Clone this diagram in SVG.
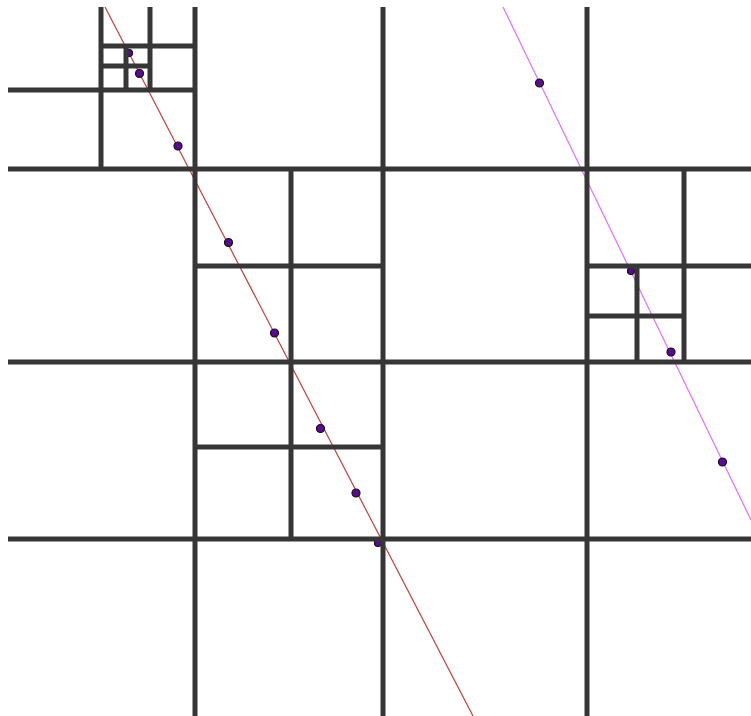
<svg xmlns="http://www.w3.org/2000/svg" width="751" height="716" viewBox="0 0 751 716">
  <style>
    .g { stroke: #363636; stroke-width: 5; fill: none; stroke-linecap: butt; }
    .red { stroke: #c2403a; stroke-width: 1.2; fill: none; }
    .mag { stroke: #e070ff; stroke-width: 1.2; fill: none; }
    .dot { fill: #5a0a90; stroke: #111; stroke-width: 1.2; }
  </style>
  <rect x="0" y="0" width="751" height="716" fill="#ffffff"/>
  <g id="curves">
    <line class="red" x1="105" y1="7" x2="473" y2="716"/>
    <line class="mag" x1="503" y1="7" x2="751" y2="520"/>
  </g>
  <g id="points">
    <circle class="dot" cx="129" cy="53" r="3.5"/>
    <circle class="dot" cx="139.5" cy="73.5" r="4"/>
    <circle class="dot" cx="178" cy="146" r="4"/>
    <circle class="dot" cx="228.5" cy="242.5" r="4"/>
    <circle class="dot" cx="274.5" cy="333" r="4"/>
    <circle class="dot" cx="320.5" cy="428.5" r="4"/>
    <circle class="dot" cx="356" cy="493" r="4"/>
    <circle class="dot" cx="378" cy="543" r="3.5"/>
    <circle class="dot" cx="539.5" cy="83" r="4"/>
    <circle class="dot" cx="631" cy="271" r="3.5"/>
    <circle class="dot" cx="671" cy="352" r="4"/>
    <circle class="dot" cx="722.5" cy="462" r="4"/>
  </g>
  <g id="grid">
    <line class="g" x1="8" y1="169" x2="751" y2="169"/>
    <line class="g" x1="8" y1="362" x2="751" y2="362"/>
    <line class="g" x1="8" y1="539" x2="751" y2="539"/>
    <line class="g" x1="8" y1="90" x2="195" y2="90"/>
    <line class="g" x1="101" y1="46" x2="195" y2="46"/>
    <line class="g" x1="101" y1="66" x2="150" y2="66"/>
    <line class="g" x1="195" y1="266" x2="383" y2="266"/>
    <line class="g" x1="587" y1="266" x2="751" y2="266"/>
    <line class="g" x1="195" y1="447" x2="383" y2="447"/>
    <line class="g" x1="587" y1="316" x2="684" y2="316"/>
    <line class="g" x1="101" y1="7" x2="101" y2="169"/>
    <line class="g" x1="150" y1="7" x2="150" y2="90"/>
    <line class="g" x1="126" y1="46" x2="126" y2="90"/>
    <line class="g" x1="195" y1="7" x2="195" y2="716"/>
    <line class="g" x1="383" y1="7" x2="383" y2="716"/>
    <line class="g" x1="587" y1="7" x2="587" y2="716"/>
    <line class="g" x1="291" y1="169" x2="291" y2="539"/>
    <line class="g" x1="637" y1="266" x2="637" y2="362"/>
    <line class="g" x1="684" y1="169" x2="684" y2="362"/>
  </g>
</svg>
